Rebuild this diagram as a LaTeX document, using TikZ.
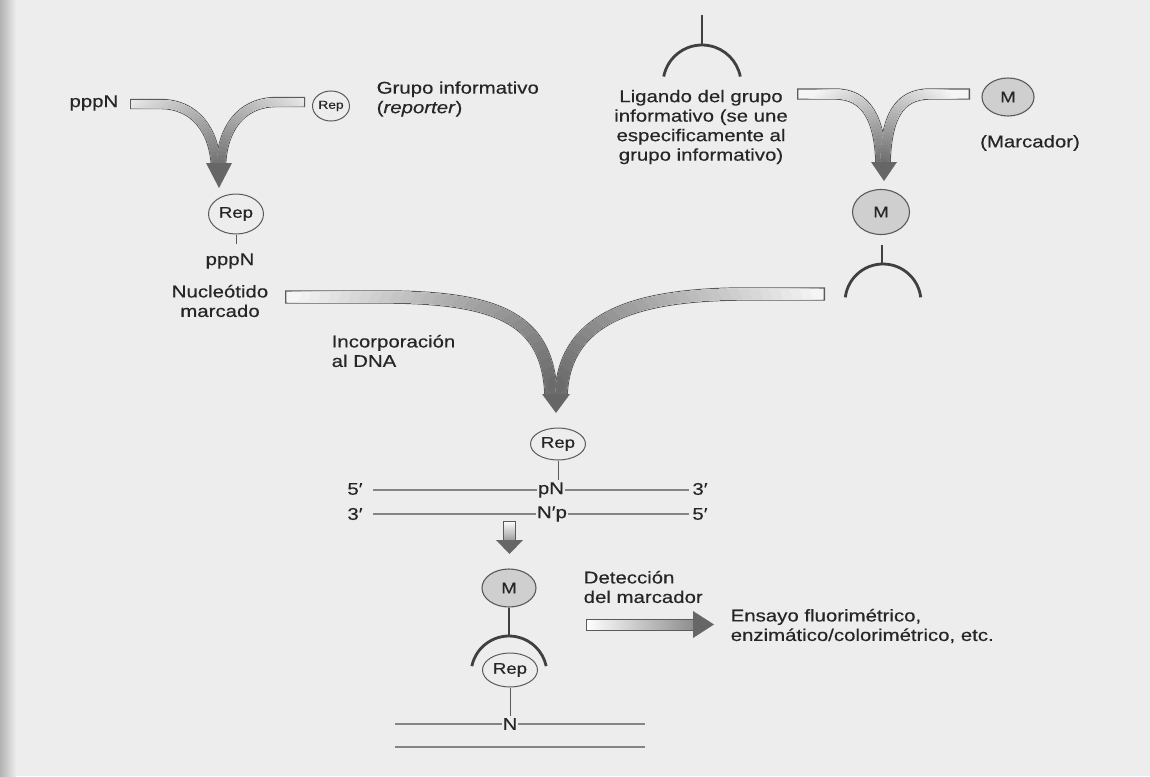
\documentclass[tikz,border=0pt]{standalone}
\usepackage{fontspec}
\setmainfont[FakeStretch=1.2,FakeBold=0.4]{Liberation Sans}
\usetikzlibrary{calc,shapes.geometric}
\definecolor{bg}{HTML}{EDEDED}
\definecolor{ol}{HTML}{5A5A5A}
\definecolor{txt}{HTML}{262626}
\definecolor{mfill}{HTML}{CFCFCF}
\newcommand\gfill[4]{%
  \draw[line width=#3, draw=black!4, shorten <=1.3pt] #4;
  \foreach \k in {0,...,29}{%
    \pgfmathsetmacro\rad{#2*(1-\k/30)}%
    \pgfmathsetmacro\pc{4+54*(\k/29)}%
    \begin{scope}
      \clip #1 circle (\rad pt);
      \draw[line width=#3, draw=black!\pc, shorten <=1.3pt] #4;
    \end{scope}
  }%
}
\newcommand\mergearrow[6]{%
  \draw[line width=#4, draw=ol] #5;
  \draw[line width=#4, draw=ol] #6;
  \gfill{#1}{#2}{#3}{#5}
  \gfill{#1}{#2}{#3}{#6}
}
\begin{document}
\begin{tikzpicture}[x=1pt,y=-1pt,
  lab/.style={text=txt, font=\fontsize{17}{19.5}\selectfont, inner sep=0.5pt},
  repel/.style={ellipse, draw=ol, line width=1pt, inner sep=0pt, text=txt,
    minimum width=55pt, minimum height=34pt, font=\fontsize{15.5}{16}\selectfont},
  mel/.style={ellipse, draw=ol, fill=mfill, line width=1.1pt, inner sep=0pt, text=txt,
    minimum width=54pt, minimum height=38pt, font=\fontsize{15.5}{16}\selectfont},
  tick/.style={line width=1pt, draw=ol},
  capst/.style={line width=2.8pt, draw=black!75},
  strand/.style={line width=2.4pt, draw=black!48},
  head/.style={fill=black!60}]
\fill[bg] (0,0) rectangle (1150,776);
\shade[left color=black!30, right color=bg] (0,0) rectangle (16,776);
\useasboundingbox (0,0) rectangle (1150,776);

% ---------- top-left merge
\node[lab, anchor=east] (pppA) at (119,103) {pppN};
\node[repel, minimum width=37pt, minimum height=30pt, font=\fontsize{11.5}{12}\selectfont] (repA) at (331,106) {Rep};
\node[lab, anchor=west, align=left] (grupo) at (376,99) {Grupo informativo\\(\textit{reporter})};
\mergearrow{(219,172)}{125}{8pt}{10.4pt}
  {(130,104) -- (160,104) .. controls (195,104) and (214,130) .. (216,166)}
  {(305,102) -- (277,102) .. controls (240,102) and (222,130) .. (221,166)}
\fill[head] (206,163) -- (232,163) -- (219,188) -- cycle;

\node[repel, minimum height=40pt] (repB) at (236,214) {Rep};
\coordinate (repBt) at (236,244);
\draw[tick] (repB.south) -- (repBt);
\node[lab] (pppB) at (230,261) {pppN};
\node[lab, align=center] (nuc) at (220,301) {Nucleótido\\marcado};
\node[lab, anchor=west, align=left] (inc) at (331,351) {Incorporación\\al DNA};

% ---------- big merge
\mergearrow{(556,385)}{280}{11pt}{13.4pt}
  {(285,297) -- (390,297) .. controls (500,298) and (549,320) .. (551,397)}
  {(825,294) -- (740,294) .. controls (630,295) and (563,320) .. (561,397)}
\fill[head] (542,394) -- (570,394) -- (556,413) -- cycle;

% ---------- DNA duplex
\node[repel, minimum height=32pt] (repC) at (558,444) {Rep};
\node[lab] (pN) at (551,490) {pN};
\draw[tick, shorten >=1.5pt] (repC.south) -- (repC.south |- pN.north);
\node[lab] (Np) at (552,514) {N′p};
\node[lab] (t5a) at (355,489) {5′};
\node[lab] (t3a) at (355,514) {3′};
\node[lab] (t3b) at (700,489) {3′};
\node[lab] (t5b) at (700,514) {5′};
\coordinate (s1a) at (373,490); \coordinate (s1b) at (689,490);
\coordinate (s2a) at (373,514); \coordinate (s2b) at (689,514);
\draw[strand] (s1a) -- (pN.west);
\draw[strand] (pN.east) -- (s1b);
\draw[strand] (s2a) -- (Np.west);
\draw[strand] (Np.east) -- (s2b);

% ---------- small down arrow
\shade[top color=white, bottom color=black!40, draw=ol, line width=0.8pt] (503.5,521) rectangle (515.5,541);
\fill[head] (496,540) -- (523,540) -- (509.5,554) -- cycle;

% ---------- bottom column
\node[mel] (Mc) at (509,588) {M};
\coordinate (capcTop) at (509,636);
\draw[capst] (Mc.south) -- (capcTop);
\coordinate (capc) at (509,674);
\draw[capst] ($(capc)+(168:38pt)$) arc[start angle=168, end angle=12, radius=38pt];
\node[repel] (repD) at (510,670) {Rep};
\node[lab] (Nb) at (510,724) {N};
\draw[tick, shorten >=1.5pt] (repD.south) -- (Nb.north);
\coordinate (b1a) at (395,724); \coordinate (b1b) at (645,724);
\coordinate (b2a) at (395,747); \coordinate (b2b) at (645,747);
\draw[strand] (b1a) -- (Nb.west);
\draw[strand] (Nb.east) -- (b1b);
\draw[strand] (b2a) -- (b2b);

% ---------- detection
\node[lab, anchor=west, align=left] (det) at (583,587) {Detección\\del marcador};
\shade[left color=white, right color=black!45, draw=ol, line width=0.8pt] (586,619.5) rectangle (695,630.5);
\fill[head] (693,611) -- (693,638) -- (714,624.5) -- cycle;
\node[lab, anchor=west, align=left] (ens) at (730,626) {Ensayo fluorimétrico,\\enzimático/colorimétrico, etc.};

% ---------- top-right
\coordinate (stemTop) at (702,15);
\coordinate (stemBot) at (702,45);
\draw[capst] (stemTop) -- (stemBot);
\coordinate (capa) at (702,84);
\draw[capst] ($(capa)+(169:39pt)$) arc[start angle=169, end angle=11, radius=39pt];
\node[lab, align=center] (lig) at (701,127) {Ligando del grupo\\informativo (se une\\especificamente al\\grupo informativo)};
\mergearrow{(883,165)}{100}{9pt}{11.4pt}
  {(797,94) -- (835,94) .. controls (866,94) and (880,118) .. (881,165)}
  {(970,94) -- (930,94) .. controls (898,94) and (886,118) .. (885,165)}
\fill[head] (871,162) -- (897,162) -- (884,181) -- cycle;
\node[mel, minimum width=52pt] (Ma) at (1008,97) {M};
\node[lab] (marc) at (1030,143) {(Marcador)};
\node[mel, minimum width=57pt, minimum height=45pt] (Mb) at (881,212) {M};
\coordinate (mbs1) at (882,245); \coordinate (mbs2) at (882,264);
\draw[capst] (mbs1) -- (mbs2);
\coordinate (capb) at (883,302);
\draw[capst] ($(capb)+(173:38pt)$) arc[start angle=173, end angle=7, radius=38pt];
\end{tikzpicture}
\end{document}
